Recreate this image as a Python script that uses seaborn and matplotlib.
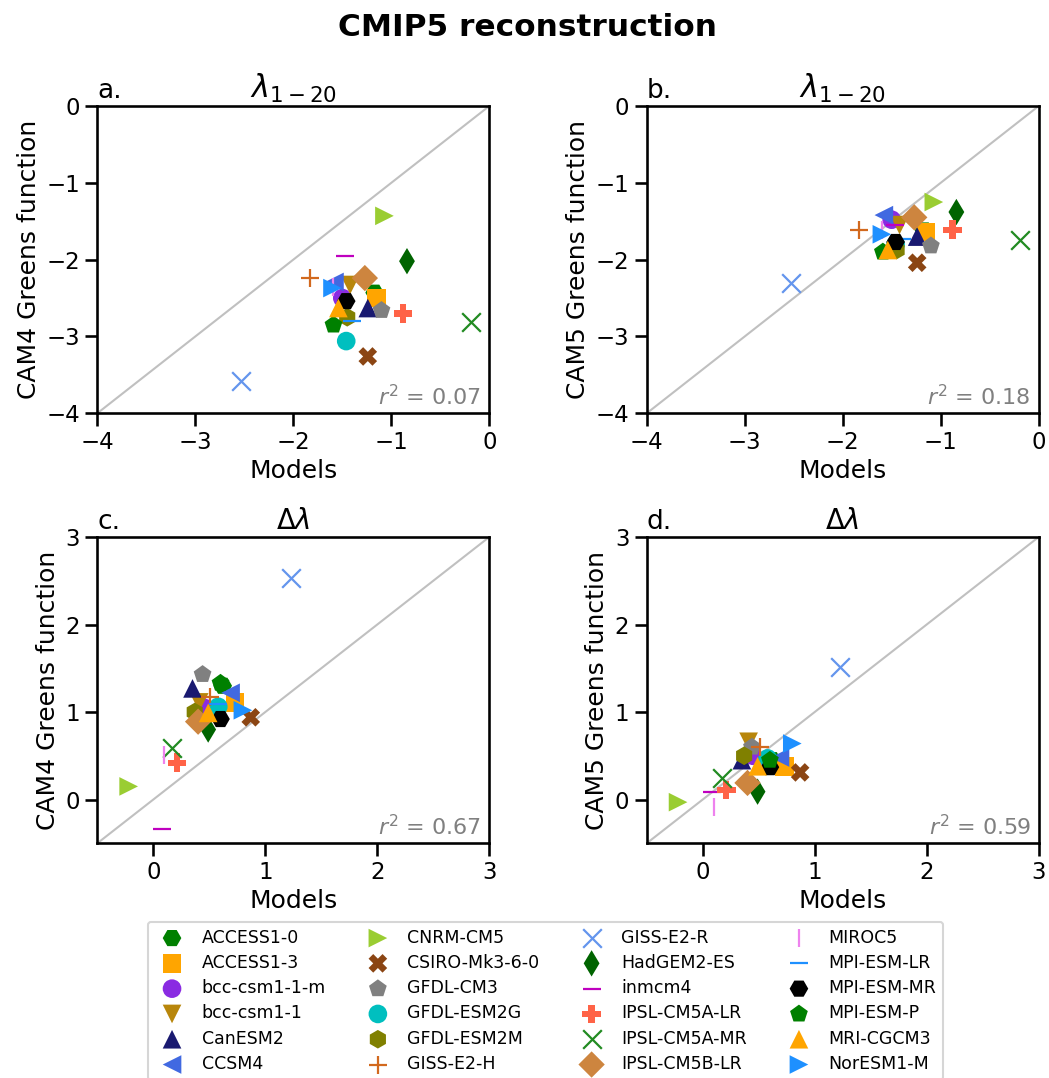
import matplotlib
matplotlib.use("Agg")
import matplotlib.pyplot as plt
import pandas as pd
import seaborn as sns

# CMIP5 models with their plotting symbols and colours
models = [
    "ACCESS1-0", "ACCESS1-3", "bcc-csm1-1-m", "bcc-csm1-1", "CanESM2", "CCSM4",
    "CNRM-CM5", "CSIRO-Mk3-6-0", "GFDL-CM3", "GFDL-ESM2G", "GFDL-ESM2M", "GISS-E2-H",
    "GISS-E2-R", "HadGEM2-ES", "inmcm4", "IPSL-CM5A-LR", "IPSL-CM5A-MR", "IPSL-CM5B-LR",
    "MIROC5", "MPI-ESM-LR", "MPI-ESM-MR", "MPI-ESM-P", "MRI-CGCM3", "NorESM1-M",
]
model_markers = [
    "H", "s", "o", "v", "^", "<",
    ">", "X", "p", "o", "h", "+",
    "x", "d", "_", "P", "x", "D",
    "|", "_", "H", "p", "^", ">",
]
model_colors = [
    "green", "orange", "blueviolet", "darkgoldenrod", "midnightblue", "royalblue",
    "yellowgreen", "saddlebrown", "gray", "#00BFBF", "olive", "chocolate",
    "cornflowerblue", "darkgreen", "#BF00BF", "tomato", "forestgreen", "peru",
    "violet", "dodgerblue", "black", "green", "orange", "dodgerblue",
]

# lambda_{1-20}: model values and Greens-function reconstructions
lam_models = [
    -1.17, -1.15, -1.50, -1.42, -1.24, -1.58,
    -1.07, -1.24, -1.10, -1.46, -1.45, -1.83,
    -2.53, -0.84, -1.47, -0.88, -0.19, -1.27,
    -1.60, -1.40, -1.46, -1.59, -1.54, -1.60,
]
lam_cam4 = [
    -2.43, -2.50, -2.50, -2.33, -2.63, -2.29,
    -1.43, -3.26, -2.66, -3.06, -2.75, -2.24,
    -3.58, -2.02, -1.95, -2.70, -2.81, -2.24,
    -2.36, -2.80, -2.54, -2.85, -2.63, -2.37,
]
lam_cam5 = [
    -1.62, -1.64, -1.48, -1.55, -1.70, -1.42,
    -1.25, -2.04, -1.82, -1.80, -1.875, -1.61,
    -2.30, -1.38, -1.55, -1.61, -1.75, -1.45,
    -1.62, -1.73, -1.77, -1.90, -1.875, -1.67,
]

# Delta lambda: model values and Greens-function reconstructions
dlam_models = [
    0.62, 0.73, 0.45, 0.41, 0.35, 0.69,
    -0.22, 0.87, 0.44, 0.58, 0.37, 0.51,
    1.23, 0.49, 0.08, 0.21, 0.17, 0.40,
    0.10, 0.58, 0.60, 0.60, 0.49, 0.80,
]
dlam_cam4 = [
    1.30, 1.11, 1.05, 1.11, 1.27, 1.22,
    0.15, 0.94, 1.43, 1.06, 1.00, 1.17,
    2.53, 0.80, -0.34, 0.42, 0.59, 0.89,
    0.51, 1.09, 0.92, 1.33, 0.99, 1.02,
]
dlam_cam5 = [
    0.45, 0.38, 0.50, 0.66, 0.45, 0.48,
    -0.03, 0.31, 0.60, 0.47, 0.50, 0.60,
    1.51, 0.09, 0.09, 0.11, 0.25, 0.19,
    -0.09, 0.40, 0.37, 0.45, 0.38, 0.64,
]

r2_values = ["0.07", "0.18", "0.67", "0.59"]
panel_letters = ["a.", "b.", "c.", "d."]
panel_titles = [r"$\lambda_{1-20}$", r"$\lambda_{1-20}$", r"$\Delta\lambda$", r"$\Delta\lambda$"]
title_sizes = [22, 22, 20, 20]
y_labels = ["CAM4 Greens function", "CAM5 Greens function",
            "CAM4 Greens function", "CAM5 Greens function"]

sns.set_theme(context="talk", style="ticks")
plt.rcParams["font.family"] = ["DejaVu Sans"]
plt.rcParams.update({
    "text.color": "black", "axes.labelcolor": "black",
    "xtick.color": "black", "ytick.color": "black", "axes.edgecolor": "black",
})

W, H = 1049, 1078
fig = plt.figure(figsize=(W / 100, H / 100), dpi=100)


def add_panel(left, top, right, bottom):
    return fig.add_axes([left / W, 1 - bottom / H, (right - left) / W, (bottom - top) / H])


axes = [
    add_panel(97.3, 106, 489.3, 413.3),
    add_panel(646.7, 106, 1038.7, 413.3),
    add_panel(97.3, 537, 489.3, 843.3),
    add_panel(646.7, 537, 1038.7, 843.3),
]

panel_data = [
    (lam_models, lam_cam4, (-4, 0), [-4, -3, -2, -1, 0]),
    (lam_models, lam_cam5, (-4, 0), [-4, -3, -2, -1, 0]),
    (dlam_models, dlam_cam4, (-0.5, 3), [0, 1, 2, 3]),
    (dlam_models, dlam_cam5, (-0.5, 3), [0, 1, 2, 3]),
]

for k, (ax, (xs, ys, lims, ticks)) in enumerate(zip(axes, panel_data)):
    df = pd.DataFrame({"model": models, "x": xs, "y": ys})
    ax.axline((0, 0), slope=1, color="silver", lw=1.5, zorder=0)
    for i, name in enumerate(models):
        mk = model_markers[i]
        filled = mk not in ("x", "+", "|", "_")
        kws = dict(marker=mk, color=model_colors[i], s=180)
        if filled:
            kws.update(edgecolor="none", linewidth=0)
        else:
            kws.update(linewidth=1.6)
        sns.scatterplot(data=df.iloc[[i]], x="x", y="y", ax=ax, legend=False,
                        label=name if k == 0 else None, zorder=3, **kws)
    ax.set_xlim(*lims)
    ax.set_ylim(*lims)
    ax.set_xticks(ticks)
    ax.set_yticks(ticks)
    ax.set_xlabel("Models")
    ax.set_ylabel(y_labels[k])
    ax.set_title(panel_letters[k], loc="left", fontsize=19)
    ax.set_title(panel_titles[k], fontsize=title_sizes[k])
    ax.text(0.98, 0.012, r"$r^2$ = " + r2_values[k], transform=ax.transAxes,
            ha="right", va="bottom", color="gray", fontsize=16)
    leg = ax.get_legend()
    if leg is not None:
        leg.remove()

handles, labels = axes[0].get_legend_handles_labels()
fig.legend(handles, labels, loc="upper center",
           bbox_to_anchor=(545.5 / W, 1 - 913 / H), ncol=4, fontsize=12.5,
           columnspacing=2.0, labelspacing=0.42, handletextpad=0.7)

fig.suptitle("CMIP5 reconstruction", fontweight="bold", fontsize=22.5,
             x=528 / W, y=1 - 27 / H, va="center")

fig.savefig("out.png", dpi=100)
